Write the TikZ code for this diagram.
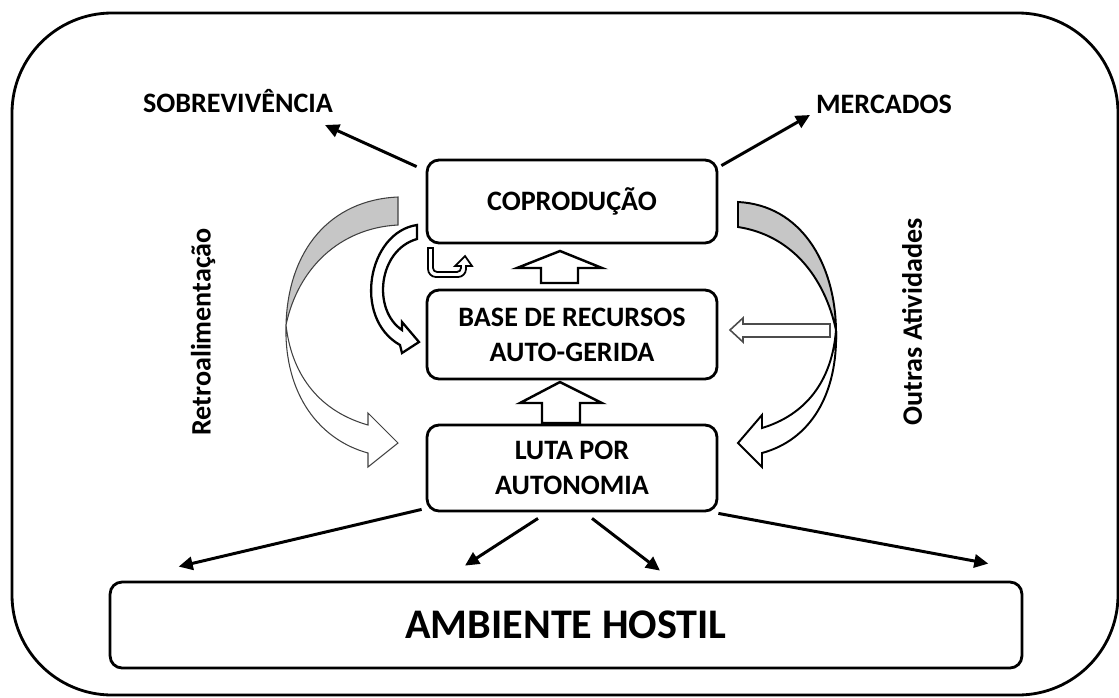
\documentclass[tikz,border=0pt]{standalone}
\usepackage{fontspec}
\setmainfont{Carlito}
\usetikzlibrary{arrows.meta}

\begin{document}
\begin{tikzpicture}[x=0.02cm,y=-0.02cm,
	box/.style={draw,line width=1.6pt,rounded corners=0.24cm,align=center,inner sep=0,font=\fontsize{16}{20}\selectfont\bfseries},
	lbl/.style={inner sep=0,font=\fontsize{16}{20}\selectfont\bfseries},
	pointer/.style={line width=1.7pt,-{Triangle[length=8pt,width=7.5pt]}},
	blockup/.style={draw,line width=1.4pt,fill=white,line join=miter},
	bandgray/.style={draw=black!75,line width=0.6pt,fill=gray!45},
	bandwhite/.style={draw=black!75,line width=0.6pt,fill=white},
	bandgrayR/.style={draw,line width=1.1pt,fill=gray!45},
	bandwhiteR/.style={draw,line width=1.1pt,fill=white}]
	\useasboundingbox (0,0) rectangle (1119,697);
	\draw[line width=1.6pt,rounded corners=2cm] (12,13) rectangle (1118,695);
	\node[lbl] (sobre) at (238,101) {SOBREVIVÊNCIA};
	\node[lbl] (merc) at (884,104) {MERCADOS};
	\node[box,minimum width=5.8cm,minimum height=1.66cm] (copro) at (572,201.5) {COPRODUÇÃO};
	\node[box,minimum width=5.8cm,minimum height=1.78cm] (base) at (572,334.5) {BASE DE RECURSOS\\AUTO-GERIDA};
	\node[box,minimum width=5.8cm,minimum height=1.72cm] (luta) at (572,468) {LUTA POR\\AUTONOMIA};
	\node[box,minimum width=18.24cm,minimum height=1.72cm,font=\fontsize{24}{28}\selectfont\bfseries] (amb) at (566,625) {AMBIENTE HOSTIL};
	\node[lbl,rotate=90] (retro) at (203,332) {Retroalimentação};
	\node[lbl,rotate=90] (outras) at (912,322) {Outras Atividades};
	\draw[pointer] ([shift={(-9,8)}]copro.north west) -- ([shift={(87,24)}]sobre.center);
	\draw[pointer] ([shift={(3,7)}]copro.north east) -- ([shift={(-74,11)}]merc.center);
	\draw[pointer] ([shift={(-4,-3)}]luta.south west) -- ([shift={(70,-14)}]amb.north west);
	\draw[pointer] ([shift={(-34,6)}]luta.south) -- ([shift={(-101,-15)}]amb.north);
	\draw[pointer] ([shift={(20,6)}]luta.south) -- ([shift={(94,-10)}]amb.north);
	\draw[pointer] ([shift={(0,1)}]luta.south east) -- ([shift={(-35,-17)}]amb.north east);
	\draw[blockup] (541,283) -- (541,268) -- (517,268) -- (560,251) -- (602,268) -- (578,268) -- (578,283) -- cycle;
	\draw[blockup] (542,423) -- (542,403) -- (520,403) -- (560,382) -- (602,403) -- (580,403) -- (580,423) -- cycle;
	\draw[bandgray] (398,197) .. controls (330,200) and (288,250) .. (286,325) .. controls (298,268) and (340,228) .. (398,225) -- cycle;
	\draw[bandwhite] (286,325) .. controls (284,395) and (320,440) .. (368,453) -- (368,467) -- (398,443) -- (368,413) -- (368,425) .. controls (322,412) and (292,378) .. (286,325) -- cycle;
	\draw[draw,line width=1.3pt,fill=white] (417,225) .. controls (368,232) and (352,318) .. (400,345) -- (402,353) -- (419,342) -- (402,322) -- (402,330) .. controls (372,310) and (378,250) .. (417,239) -- cycle;
	\draw[line width=1pt,fill=white] (428,248) [rounded corners=0.16cm] -- (428,277) -- (466,277) [sharp corners] -- (466,266) -- (472,266) -- (465,256) -- (455,266) -- (461,266) [rounded corners=0.08cm] -- (461,272) -- (433,272) [sharp corners] -- (433,248) -- cycle;
	\draw[bandgrayR] (738,202) .. controls (800,205) and (835,262) .. (836,330) .. controls (824,275) and (790,235) .. (738,227) -- cycle;
	\draw[bandwhiteR] (836,330) .. controls (838,395) and (810,440) .. (762,453) -- (762,467) -- (738,443) -- (762,415) -- (762,428) .. controls (805,415) and (832,382) .. (836,330) -- cycle;
	\draw[draw=black!70,line width=0.9pt,fill=white] (830,324) -- (743,324) -- (743,318) -- (730,330) -- (743,342) -- (743,337) -- (830,337) -- cycle;
\end{tikzpicture}
\end{document}
